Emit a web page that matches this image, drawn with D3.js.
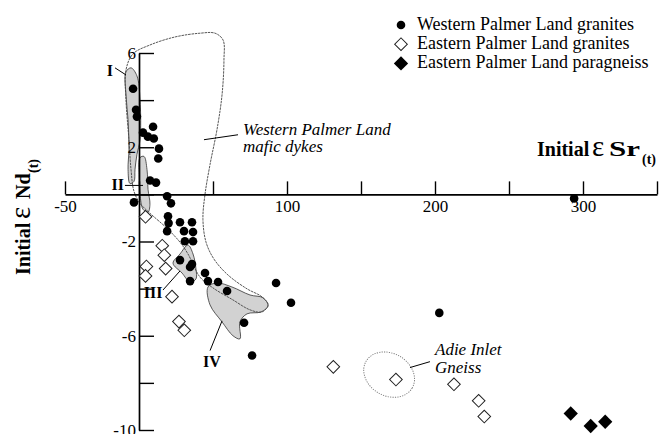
<!DOCTYPE html>
<html>
<head>
<meta charset="utf-8">
<script src="https://cdn.jsdelivr.net/npm/d3@7"></script>
<style>
body { margin: 0; background: #fff; }
svg { display: block; font-family: 'Liberation Serif', 'Times New Roman', serif; }
</style>
</head>
<body>
<svg id="chart" width="660" height="434"></svg>
<script>
const CHART = d3.select('#chart');

// [initial eSr, initial eNd]
let westernGranites = [
    [-4, 4.48], [-2, 3.59], [-1.4, 3.3], [2.7, 2.62], [9.5, 2.87], [6, 2.45],
    [10, 2.37], [13.5, 1.94], [13, 1.52], [7.5, 0.59], [11.5, 0.5], [-3.4, -0.34],
    [19, -0.08], [21.6, -0.38], [19.6, -0.93], [20, -1.22], [19, -1.56], [27.7, -1.18],
    [35.8, -1.18], [30.4, -1.56], [36.5, -1.6], [31, -1.99], [36.5, -1.99], [27.7, -2.79],
    [35.8, -2.96], [34.5, -3.08], [34.5, -3.68], [44.6, -3.34], [46.6, -3.68], [53.4, -3.72],
    [59.5, -4.1], [92.6, -3.76], [102.7, -4.6], [71, -5.45], [76.4, -6.84], [202.9, -5.03],
    [294, -0.17]
];
let easternGranites = [
    [4.4, -0.95], [15.7, -2.18], [17.1, -2.58], [18, -3.15], [5, -3.06], [4.4, -3.46],
    [22.3, -4.34], [27, -5.4], [30.6, -5.77], [131.3, -7.32], [173.6, -7.86], [212.8, -8.06],
    [229.5, -8.76], [233.3, -9.43]
];
let easternParagneiss = [[291.7, -9.3], [305.2, -9.83], [315, -9.65]];

let xTicks = [-50, 0, 50, 100, 150, 200, 250, 300, 350];
let xTickLabels = [-50, 100, 200, 300];
let yTicks = [-10, -8, -6, -4, -2, 0, 2, 4, 6];
let yTickLabels = [-10, -6, -2, 2, 6];

let legendLabels = ['Western Palmer Land granites', 'Eastern Palmer Land granites', 'Eastern Palmer Land paragneiss'];

// outlined fields, in data units
let maficDykes = [
    [-4.1, 5.96], [7.4, 6.34], [24.3, 6.68], [41.2, 6.84], [51.4, 6.84], [56.8, 6.55],
    [57.4, 5.7], [56.1, 4.22], [52.7, 2.75], [48, 1.27], [44.6, 0], [43.2, -1.06],
    [45.3, -2.03], [50.7, -2.75], [60.1, -3.42], [73, -4.01], [83.1, -4.35], [87.2, -4.69],
    [83.1, -4.99], [75, -4.9], [63.5, -4.48], [50, -3.97], [41.2, -3.51], [33.1, -2.53],
    [27.7, -2.03], [18.9, -1.44], [7.4, -0.8], [0.7, -0.38], [-3.4, 0.13], [-5.4, 1.06],
    [-6.8, 2.32], [-8.8, 4.01], [-8.8, 5.28]
];
let fieldI = [
    [-8.8, 5.2], [-5.4, 5.37], [-1.4, 5.03], [0.7, 4.01], [0.7, 2.32], [-1.4, 1.69],
    [-2.7, 1.06], [-3.4, 0.55], [-6.1, 0.46], [-7.4, 1.06], [-6.8, 1.9], [-7.4, 3.17], [-8.8, 4.22]
];
let fieldII = [
    [0.7, 1.56], [3.4, 1.61], [5.4, 1.06], [6.1, 0.21], [7.4, -0.42], [6.1, -0.76],
    [2.7, -0.63], [0.7, 0], [0, 0.84]
];
let fieldIII = [
    [23, -2.92], [27.7, -2.53], [33.1, -2.15], [36.5, -2.53], [38.5, -3.17], [38.5, -3.59],
    [34.5, -3.72], [29.1, -3.34]
];
let fieldIV = [
    [46.6, -3.93], [52.7, -3.76], [62.8, -3.93], [75, -4.27], [83.8, -4.39], [87.2, -4.73],
    [82.4, -4.99], [73, -5.07], [68.2, -5.41], [68.2, -6.13], [63.5, -6], [56.1, -5.41], [48, -4.69]
];
let adieInlet = { cx: 169, cy: -7.65, rx: 18, ry: 0.9 };

// labels with leader lines: text anchor point and line ends in data units
let fieldLabels = [
    { text: 'I', at: [-19.6, 5.28], anchor: 'middle', line: [[-16.2, 5.37], [-8.8, 5.07]] },
    { text: 'II', at: [-10.1, 0.42], anchor: 'end', line: [[-9.5, 0.38], [2.7, 0.38]] },
    { text: 'III', at: [9.5, -4.18], anchor: 'middle', line: [[16.2, -4.06], [27.7, -3.25]] },
    { text: 'IV', at: [49.3, -7.1], anchor: 'middle', line: [[48, -6.63], [56.1, -5.37]] }
];
let noteLabels = [
    { lines: ['Western Palmer Land', 'mafic dykes'], at: [70.3, 2.53], line: [[43.9, 2.32], [66.9, 2.53]] },
    { lines: ['Adie Inlet', 'Gneiss'], at: [200, -6.82], line: [[183.1, -7.35], [196.6, -7.1]] }
];

const x = d3.scaleLinear().domain([-50, 350]).range([65, 657]);
const y = d3.scaleLinear().domain([-10, 6]).range([430, 53]);

const smooth = d3.line()
    .x(d => x(d[0]))
    .y(d => y(d[1]))
    .curve(d3.curveCatmullRomClosed.alpha(0.5));

// shaded fields
CHART.append('g')
    .selectAll('path')
    .data([fieldI, fieldII, fieldIII, fieldIV])
    .join('path')
    .attr('d', smooth)
    .attr('fill', '#d2d2d2')
    .attr('stroke', '#333')
    .attr('stroke-width', 0.8)

CHART.append('path')
    .attr('d', smooth(maficDykes))
    .attr('fill', 'none')
    .attr('stroke', '#444')
    .attr('stroke-width', 0.9)
    .attr('stroke-dasharray', '2.5,0.8')

CHART.append('ellipse')
    .attr('cx', x(adieInlet.cx))
    .attr('cy', y(adieInlet.cy))
    .attr('rx', x(adieInlet.cx + adieInlet.rx) - x(adieInlet.cx))
    .attr('ry', y(adieInlet.cy - adieInlet.ry) - y(adieInlet.cy))
    .attr('transform', `rotate(30 ${x(adieInlet.cx)} ${y(adieInlet.cy)})`)
    .attr('fill', 'none')
    .attr('stroke', '#777')
    .attr('stroke-width', 0.9)
    .attr('stroke-dasharray', '1.2,1.2')

// axes
const fmt = d => String(d);

let xAxis = CHART.append('g')
    .attr('transform', `translate(0,${y(0)})`)
    .call(d3.axisBottom(x).tickValues(xTicks).tickSize(-13).tickSizeOuter(0).tickPadding(6)
        .tickFormat(d => xTickLabels.includes(d) ? fmt(d) : ''));

let yAxis = CHART.append('g')
    .attr('transform', `translate(${x(0)},0)`)
    .call(d3.axisLeft(y).tickValues(yTicks).tickSize(-15).tickSizeOuter(0).tickPadding(3)
        .tickFormat(d => yTickLabels.includes(d) ? fmt(d) : ''));

[xAxis, yAxis].forEach(g => {
    g.attr('font-family', null).attr('font-size', null);
    g.select('.domain').attr('stroke', '#000').attr('stroke-width', 1.7);
    g.selectAll('.tick line').attr('stroke', '#000').attr('stroke-width', 1.4);
    g.selectAll('.tick text').attr('fill', '#000').attr('font-size', 17);
});

// leader lines and labels
const leader = d3.line().x(d => x(d[0])).y(d => y(d[1]));

CHART.append('g')
    .selectAll('path')
    .data(fieldLabels.concat(noteLabels))
    .join('path')
    .attr('d', d => leader(d.line))
    .attr('stroke', '#000')
    .attr('stroke-width', 1)
    .attr('fill', 'none')

CHART.append('g')
    .selectAll('text')
    .data(fieldLabels)
    .join('text')
    .attr('x', d => x(d.at[0]))
    .attr('y', d => y(d.at[1]))
    .attr('dy', '0.35em')
    .attr('text-anchor', d => d.anchor)
    .attr('font-weight', 'bold')
    .attr('font-size', 16)
    .text(d => d.text)

noteLabels.forEach(n => {
    let t = CHART.append('text')
        .attr('font-style', 'italic')
        .attr('font-size', 17);
    n.lines.forEach((s, i) => {
        t.append('tspan')
            .attr('x', x(n.at[0]))
            .attr('y', y(n.at[1]) + i * 17.5)
            .text(s);
    });
});

// points
CHART.append('g')
    .selectAll('circle')
    .data(westernGranites)
    .join('circle')
    .attr('cx', d => x(d[0]))
    .attr('cy', d => y(d[1]))
    .attr('r', 4.3)
    .attr('fill', '#000')

const openDiamond = d3.symbol(d3.symbolSquare, 80);
const solidDiamond = d3.symbol(d3.symbolSquare, 102);

CHART.append('g')
    .selectAll('path')
    .data(easternGranites)
    .join('path')
    .attr('d', openDiamond)
    .attr('transform', d => `translate(${x(d[0])},${y(d[1])}) rotate(45)`)
    .attr('fill', '#fff')
    .attr('stroke', '#222')
    .attr('stroke-width', 1)

CHART.append('g')
    .selectAll('path')
    .data(easternParagneiss)
    .join('path')
    .attr('d', solidDiamond)
    .attr('transform', d => `translate(${x(d[0])},${y(d[1])}) rotate(45)`)
    .attr('fill', '#000')

// axis titles
let xTitle = CHART.append('text')
    .attr('x', 537)
    .attr('y', 156)
    .attr('font-weight', 'bold')
    .attr('font-size', 20);
xTitle.append('tspan').text('Initial');
xTitle.append('tspan').attr('x', 592).attr('font-weight', 'normal').attr('font-size', 29).text('ε');
xTitle.append('tspan').attr('x', 609).attr('font-size', 21).attr('textLength', 31)
    .attr('lengthAdjust', 'spacingAndGlyphs').text('Sr');
xTitle.append('tspan').attr('x', 642).attr('font-size', 14).attr('dy', 8).text('(t)');

let yTitle = CHART.append('text')
    .attr('transform', 'translate(30,275) rotate(-90)')
    .attr('font-weight', 'bold')
    .attr('font-size', 20);
yTitle.append('tspan').text('Initial');
yTitle.append('tspan').attr('x', 56).attr('font-weight', 'normal').attr('font-size', 29).text('ε');
yTitle.append('tspan').attr('x', 76).text('Nd');
yTitle.append('tspan').attr('x', 102).attr('font-size', 14).attr('dy', 8).text('(t)');

// legend
let legend = CHART.append('g')
    .selectAll('g')
    .data(legendLabels)
    .join('g')
    .attr('transform', (d, i) => `translate(401,${25 + i * 19.2})`);

legend.filter((d, i) => i == 0).append('circle').attr('r', 4.3).attr('fill', '#000');
legend.filter((d, i) => i == 1).append('path')
    .attr('d', openDiamond).attr('transform', 'rotate(45)')
    .attr('fill', '#fff').attr('stroke', '#222').attr('stroke-width', 1);
legend.filter((d, i) => i == 2).append('path')
    .attr('d', solidDiamond).attr('transform', 'rotate(45)').attr('fill', '#000');

legend.append('text')
    .attr('x', 16)
    .attr('y', 4.5)
    .attr('font-size', 18)
    .text(d => d)
</script>
</body>
</html>
